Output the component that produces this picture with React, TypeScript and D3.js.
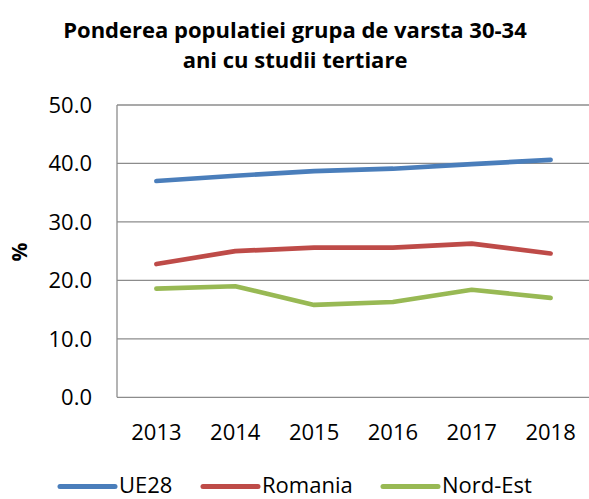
import React from "react";
import * as d3 from "d3";

const years = ["2013", "2014", "2015", "2016", "2017", "2018"];
const ue28 = [37.0, 37.9, 38.7, 39.1, 39.9, 40.6];
const romania = [22.8, 25.0, 25.6, 25.6, 26.3, 24.6];
const nordEst = [18.6, 19.0, 15.8, 16.3, 18.4, 17.0];
const yTicks = [0, 10, 20, 30, 40, 50];
const seriesNames = ["UE28", "Romania", "Nord-Est"];
const seriesColors = ["#4a7ebb", "#be4b48", "#98b954"];
const titleLines = ["Ponderea populatiei grupa de varsta 30-34", "ani cu studii tertiare"];

const W = 589;
const H = 499;
const FONT = "'Open Sans', 'Noto Sans', sans-serif";

export default function App() {
  const left = 117;
  const right = 590;
  const top = 105;
  const bottom = 397.3;
  const x = d3.scalePoint<string>().domain(years).range([left, right]).padding(0.5);
  const y = d3.scaleLinear().domain([0, 50]).range([bottom, top]);
  const line = d3
    .line<number>()
    .x((_, i) => x(years[i]) as number)
    .y((d) => y(d));
  const series = [ue28, romania, nordEst];
  const legendX = [60, 203, 383];

  return (
    <svg
      width={W}
      height={H}
      style={{ position: "absolute", left: 0, top: 0, background: "#fff" }}
      fontFamily={FONT}
    >
      {titleLines.map((t, i) => (
        <text
          key={i}
          x={295}
          y={38 + i * 29.5}
          textAnchor="middle"
          fontWeight="bold"
          fontSize={22}
          fill="#000"
        >
          {t}
        </text>
      ))}
      {yTicks.map((t) => (
        <line
          key={"g" + t}
          x1={left}
          x2={right}
          y1={y(t)}
          y2={y(t)}
          stroke="#8c8c8c"
          strokeWidth={1.3}
        />
      ))}
      <line x1={left} x2={left} y1={top} y2={bottom} stroke="#8c8c8c" strokeWidth={1.3} />
      {yTicks.map((t) => (
        <text
          key={"yl" + t}
          x={92}
          y={y(t)}
          dy="0.36em"
          textAnchor="end"
          fontSize={22}
          fill="#000"
        >
          {t.toFixed(1)}
        </text>
      ))}
      {years.map((yr) => (
        <text key={yr} x={x(yr)} y={440} textAnchor="middle" fontSize={22} fill="#000">
          {yr}
        </text>
      ))}
      <text
        transform="translate(27,252) rotate(-90)"
        textAnchor="middle"
        fontWeight="bold"
        fontSize={21}
        fill="#000"
      >
        %
      </text>
      {series.map((s, i) => (
        <path
          key={"s" + i}
          d={line(s) || ""}
          fill="none"
          stroke={seriesColors[i]}
          strokeWidth={4.7}
          strokeLinecap="round"
          strokeLinejoin="round"
        />
      ))}
      {seriesNames.map((n, i) => (
        <g key={n}>
          <line
            x1={legendX[i]}
            x2={legendX[i] + 55}
            y1={486.5}
            y2={486.5}
            stroke={seriesColors[i]}
            strokeWidth={5}
            strokeLinecap="round"
          />
          <text x={legendX[i] + 59} y={493} fontSize={22} fill="#000">
            {n}
          </text>
        </g>
      ))}
    </svg>
  );
}
